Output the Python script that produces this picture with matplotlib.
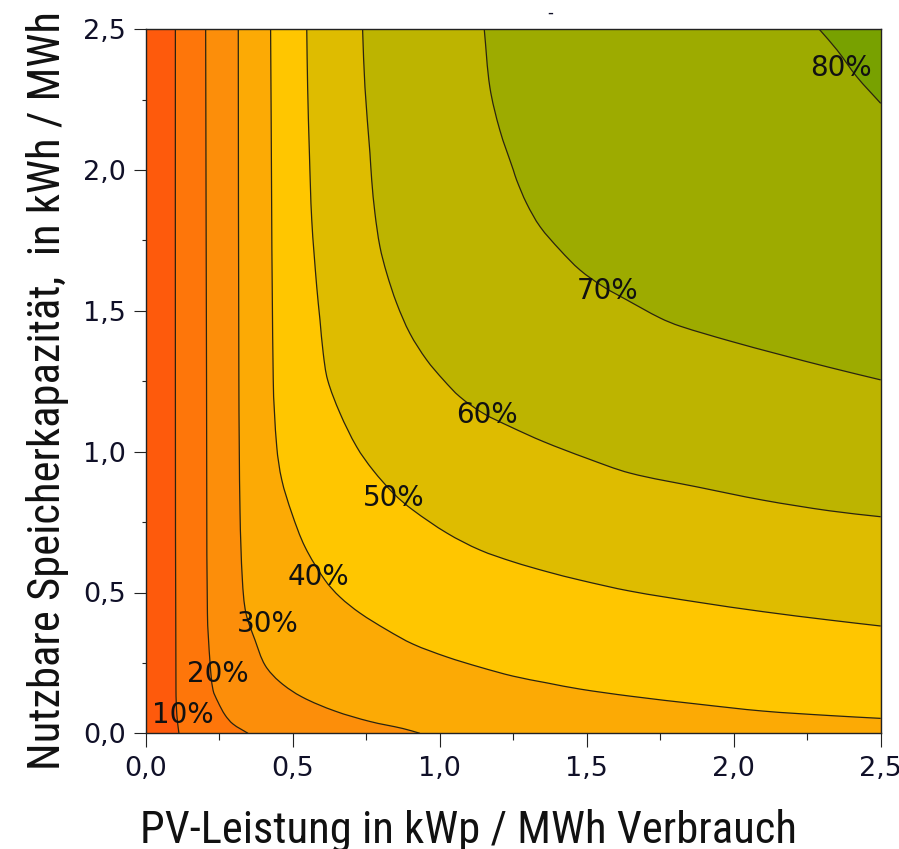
import numpy as np
import matplotlib
matplotlib.use("Agg")
import matplotlib.pyplot as plt
from matplotlib import font_manager as fm
from matplotlib.path import Path
from matplotlib.patches import PathPatch
from matplotlib.ticker import MultipleLocator, FuncFormatter

# ---- data: contour lines (x = PV kWp/MWh, y = storage kWh/MWh)
levels = ["10%", "20%", "30%", "40%", "50%", "60%", "70%", "80%"]

x10 = [0.10, 0.10, 0.102, 0.105, 0.112]
y10 = [2.5, 1.255, 0.154, 0.065, 0.0]

x20 = [0.203, 0.206, 0.209, 0.218, 0.228, 0.245, 0.269, 0.296, 0.347]
y20 = [2.5, 1.255, 0.427, 0.250, 0.154, 0.111, 0.065, 0.033, 0.0]

x30 = [0.314, 0.316, 0.320, 0.328, 0.340, 0.371, 0.405, 0.456, 0.531, 0.643, 0.762, 0.874, 0.932]
y30 = [2.5, 1.255, 0.782, 0.544, 0.427, 0.331, 0.242, 0.182, 0.129, 0.079, 0.042, 0.017, 0.0]

x40 = [0.424, 0.433, 0.445, 0.462, 0.496, 0.541, 0.609, 0.660, 0.728, 0.820, 0.908, 1.024,
       1.136, 1.249, 1.364, 1.477, 1.647, 1.875, 2.099, 2.327, 2.5]
y40 = [2.5, 1.255, 1.017, 0.900, 0.782, 0.662, 0.544, 0.484, 0.427, 0.367, 0.317, 0.271,
       0.235, 0.203, 0.179, 0.157, 0.132, 0.104, 0.079, 0.063, 0.053]

x50 = [0.547, 0.550, 0.556, 0.564, 0.581, 0.592, 0.603, 0.618, 0.660, 0.717, 0.772, 0.844,
       0.908, 1.024, 1.136, 1.249, 1.364, 1.477, 1.647, 1.875, 2.099, 2.327, 2.5]
y50 = [2.5, 2.295, 2.061, 1.823, 1.585, 1.468, 1.350, 1.255, 1.137, 1.017, 0.935, 0.850,
       0.793, 0.711, 0.651, 0.609, 0.574, 0.544, 0.505, 0.466, 0.432, 0.402, 0.381]

x60 = [0.737, 0.745, 0.762, 0.768, 0.779, 0.796, 0.819, 0.853, 0.898, 0.955, 1.012, 1.068,
       1.148, 1.239, 1.352, 1.499, 1.647, 1.875, 2.099, 2.327, 2.5]
y60 = [2.5, 2.295, 2.061, 1.965, 1.847, 1.728, 1.634, 1.527, 1.420, 1.326, 1.255, 1.195,
       1.136, 1.089, 1.036, 0.977, 0.924, 0.875, 0.828, 0.790, 0.769]

x70 = [1.151, 1.170, 1.204, 1.250, 1.261, 1.295, 1.341, 1.409, 1.477, 1.556, 1.636, 1.749,
       1.817, 1.987, 2.157, 2.327, 2.5]
y70 = [2.5, 2.295, 2.142, 2.000, 1.965, 1.882, 1.799, 1.716, 1.645, 1.586, 1.539, 1.475,
       1.446, 1.393, 1.345, 1.299, 1.255]

x80 = [2.291, 2.351, 2.419, 2.5]
y80 = [2.5, 2.427, 2.331, 2.237]

tick_vals = [0.0, 0.5, 1.0, 1.5, 2.0, 2.5]

# ---- styling
band_colors = ["#FE5A0C", "#FE760A", "#FC8E0A", "#FCAA05", "#FFC600",
               "#DEBC00", "#BDB400", "#9DAB00", "#78A100"]
label_pos = [(0.124, 0.065), (0.245, 0.211), (0.415, 0.388), (0.586, 0.555),
             (0.844, 0.836), (1.159, 1.130), (1.572, 1.569), (2.366, 2.364)]

lines = [(x10, y10), (x20, y20), (x30, y30), (x40, y40),
         (x50, y50), (x60, y60), (x70, y70), (x80, y80)]


def smooth_path(xs, ys):
    """Smooth Bezier path passing through the read points."""
    P = np.column_stack([xs, ys]).astype(float)
    n = len(P)
    d = np.hypot(*np.diff(P, axis=0).T)
    T = np.zeros_like(P)
    T[0] = (P[1] - P[0]) / d[0]
    T[-1] = (P[-1] - P[-2]) / d[-1]
    for i in range(1, n - 1):
        T[i] = (P[i + 1] - P[i - 1]) / (d[i - 1] + d[i])
    verts = [P[0]]
    codes = [Path.MOVETO]
    for i in range(n - 1):
        verts += [P[i] + T[i] * d[i] / 3, P[i + 1] - T[i + 1] * d[i] / 3, P[i + 1]]
        codes += [Path.CURVE4] * 3
    return verts, codes


W, H = 899, 849
fig = plt.figure(figsize=(W / 100, H / 100), dpi=100)
L, R, T_, B = 146, 880.7, 29.3, 733.3
ax = fig.add_axes([L / W, 1 - B / H, (R - L) / W, (B - T_) / H])
ax.set_xlim(0, 2.5)
ax.set_ylim(0, 2.5)
ax.set_facecolor(band_colors[0])

for i, (xs, ys) in enumerate(lines):
    verts, codes = smooth_path(xs, ys)
    verts = list(verts)
    codes = list(codes)
    if ys[-1] == 0.0:
        verts.append((2.5, 0.0))
        codes.append(Path.LINETO)
    verts += [(2.5, 2.5), (xs[0], ys[0])]
    codes += [Path.LINETO, Path.CLOSEPOLY]
    ax.add_patch(PathPatch(Path(verts, codes), facecolor=band_colors[i + 1],
                           edgecolor="none", lw=0, zorder=1))

for xs, ys in lines:
    verts, codes = smooth_path(xs, ys)
    ax.add_patch(PathPatch(Path(verts, codes), facecolor="none",
                           edgecolor="#2a2410", lw=0.9, zorder=2))

for lab, (lx, ly) in zip(levels, label_pos):
    ax.text(lx, ly, lab, ha="center", va="center", fontsize=20,
            family="DejaVu Sans", color="#111111", zorder=3)

fmt = FuncFormatter(lambda v, p: f"{v:.1f}".replace(".", ","))
ax.set_xticks(tick_vals)
ax.set_yticks(tick_vals)
ax.xaxis.set_major_formatter(fmt)
ax.yaxis.set_major_formatter(fmt)
ax.xaxis.set_minor_locator(MultipleLocator(0.25))
ax.yaxis.set_minor_locator(MultipleLocator(0.25))
ax.tick_params(axis="x", which="major", length=10, width=0.8, pad=6,
               labelsize=19.5, colors="#222222", labelcolor="#101028")
ax.tick_params(axis="x", which="minor", length=5, width=0.8, colors="#222222")
ax.tick_params(axis="y", which="major", length=8.6, width=0.8, pad=6,
               labelsize=19.5, colors="#222222", labelcolor="#101028")
ax.tick_params(axis="y", which="minor", length=3, width=0.8, colors="#222222")
for s in ax.spines.values():
    s.set_linewidth(1.0)
    s.set_color("#222222")
    s.set_zorder(5)

# ---- pick a narrow font for the axis titles if one is installed
entries = fm.fontManager.ttflist
names = {f.name for f in entries}
label_font = None
for cand in ["Liberation Sans Narrow", "Arial Narrow", "Roboto Condensed",
             "Open Sans Condensed", "Noto Sans Condensed", "DejaVu Sans Condensed"]:
    if cand in names:
        label_font = dict(family=[cand, "DejaVu Sans"])
        break
if label_font is None:
    cond = [f for f in entries if str(f.stretch) in ("condensed", "semi-condensed",
                                                      "extra-condensed", "500", "600", "700")]
    if cond:
        label_font = dict(family=[cond[0].name, "DejaVu Sans"], stretch=str(cond[0].stretch))
    else:
        label_font = dict(family=["Liberation Sans", "DejaVu Sans"])

xl = fig.text(469 / W, 1 - 843 / H, "PV-Leistung in kWp / MWh Verbrauch",
              ha="center", va="baseline", fontsize=30, color="#111111", **label_font)
yl = fig.text(60 / W, 1 - 770 / H, "Nutzbare Speicherkapazität,  in kWh / MWh",
              ha="left", va="baseline", rotation=90, rotation_mode="anchor",
              fontsize=30, color="#111111", **label_font)
fig.canvas.draw()
r = fig.canvas.get_renderer()
w = xl.get_window_extent(r).width
fs = min(36.0, 30 * 658.0 / w)
xl.set_fontsize(fs)
yl.set_fontsize(fs)

fig.text(550 / W, 1 - 13 / H, "-", ha="center", va="center", fontsize=12,
         color="#101028")

fig.savefig("out.png", dpi=100)
